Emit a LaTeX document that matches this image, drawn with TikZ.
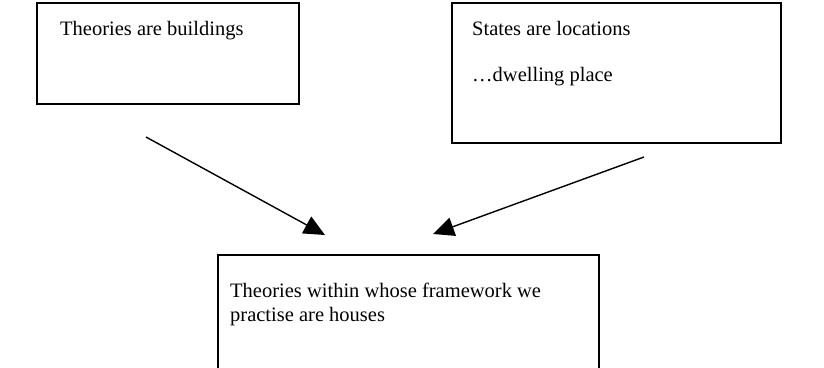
\documentclass[tikz,border=0pt]{standalone}
\usepackage{fontspec}
\setmainfont{Liberation Serif}
\usetikzlibrary{arrows.meta}
\begin{document}
\begin{tikzpicture}[x=1pt,y=-1pt,
  box/.style={draw=black,line width=1.6pt,rectangle,inner sep=0pt},
  txt/.style={anchor=base west,inner sep=0pt,font=\fontsize{20.5}{23}\selectfont},
  arr/.style={line width=1.4pt,-{Triangle[length=21pt,width=19pt]}}]
\useasboundingbox (0,0) rectangle (824,367);
\clip (0,0) rectangle (824,367);
% boxes
\draw[box] (37,3) rectangle (299,104);
\coordinate (b1nw) at (37,3);
\draw[box] (452,3) rectangle (781,143);
\coordinate (b2nw) at (452,3);
\draw[box] (218,255) rectangle (599,390);
\coordinate (b3nw) at (218,255);
% texts
\node[txt] (t1) at (60,35) {Theories are buildings};
\node[txt] (t2a) at (472,35) {States are locations};
\node[txt] (t2b) at (472,81) {…dwelling place};
\node[txt] (t3a) at (230,297) {Theories within whose framework we};
\node[txt] (t3b) at (230,321) {practise are houses};
% arrows
\coordinate (a1s) at (146,137);
\coordinate (a1e) at (325,235);
\coordinate (a2s) at (644,157);
\coordinate (a2e) at (433,234);
\draw[arr] (a1s) -- (a1e);
\draw[arr] (a2s) -- (a2e);
\end{tikzpicture}
\end{document}
